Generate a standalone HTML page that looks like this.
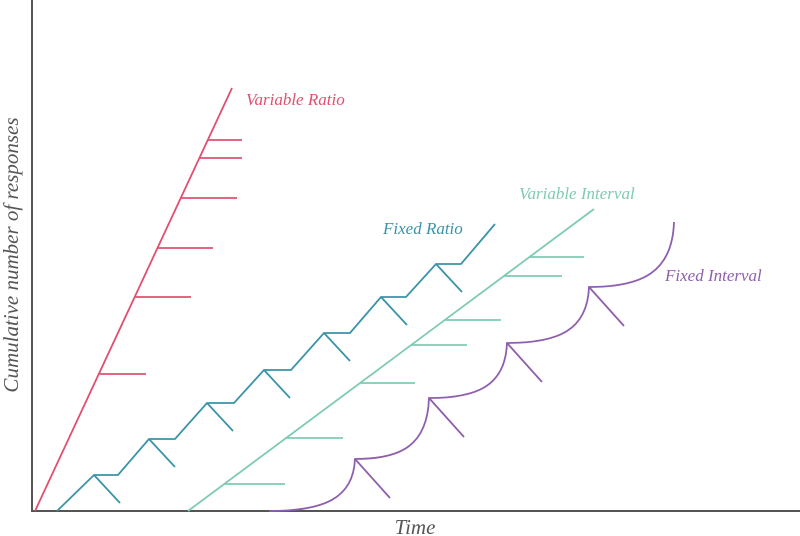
<!DOCTYPE html>
<html><head><meta charset="utf-8"><style>
html,body{margin:0;padding:0;background:#fff;}
svg{display:block;}
text{font-family:"Liberation Serif",serif;font-style:italic;}
</style></head><body>
<svg id="chart" width="800" height="536" viewBox="0 0 800 536" xmlns="http://www.w3.org/2000/svg">
<line x1="32" y1="0" x2="32" y2="512" stroke="#555" stroke-width="2"/>
<line x1="31" y1="511" x2="800" y2="511" stroke="#555" stroke-width="2"/>
<text transform="translate(18,255) rotate(-90)" text-anchor="middle" font-size="21" fill="#555">Cumulative number of responses</text>
<text x="415" y="534" text-anchor="middle" font-size="21" fill="#555">Time</text>
<g id="marks"></g>
</svg>
<script>
// time and cumulative-response values (chart units)
const vrLine = [[3,0],[200,423]];
const vrTicks = [[137,114],[214,159],[263,181],[313,205],[353,210],[371,210]]; // [response level, tick end time]
const frPoints = [[25,0],[62,36],[86,36],[117,72],[143,72],[175,108],[202,108],[232,141],[259,141],[292,178],[318,178],[349,214],[374,214],[404,247],[429,247],[463,287]];
const frPeaks = [1,3,5,7,9,11,13];
const viLine = [[156,0],[562,302]];
const viTicks = [[27,253],[73,311],[128,383],[166,435],[191,469],[235,530],[254,552]];
const fiStart = [237,0];
const fiPeaks = [[323,52],[397,113],[475,168],[557,224],[642,289]];

const X0=32, Y0=511;
function sx(t){return X0+t;}
function sy(r){return Y0-r;}
const NS="http://www.w3.org/2000/svg";
const g=document.getElementById('marks');
function add(tag,attrs){const e=document.createElementNS(NS,tag);for(const k in attrs)e.setAttribute(k,attrs[k]);g.appendChild(e);return e;}
const RED="#e0506e",TEAL="#3a93a8",MINT="#7ecbb0",PURP="#8e5fad";

let e=add('line',{x1:sx(vrLine[0][0]),y1:sy(vrLine[0][1]),x2:sx(vrLine[1][0]),y2:sy(vrLine[1][1]),stroke:RED,'stroke-width':1.8});


function onLine(L,r){const [a,b]=L;return a[0]+(b[0]-a[0])*(r-a[1])/(b[1]-a[1]);}
vrTicks.forEach(t=>{
  const el=add('line',{x1:sx(onLine(vrLine,t[0])),y1:sy(t[0]),x2:sx(t[1]),y2:sy(t[0]),stroke:RED,'stroke-width':1.8});
  
  
});
e=add('polyline',{points:frPoints.map(p=>sx(p[0])+','+sy(p[1])).join(' '),fill:'none',stroke:TEAL,'stroke-width':1.8});


frPeaks.forEach(i=>{
  const p=frPoints[i];
  const el=add('line',{x1:sx(p[0]),y1:sy(p[1]),x2:sx(p[0]+26),y2:sy(p[1]-28),stroke:TEAL,'stroke-width':1.8});
  
  
});
e=add('line',{x1:sx(viLine[0][0]),y1:sy(viLine[0][1]),x2:sx(viLine[1][0]),y2:sy(viLine[1][1]),stroke:MINT,'stroke-width':1.8});


viTicks.forEach(t=>{
  const el=add('line',{x1:sx(onLine(viLine,t[0])),y1:sy(t[0]),x2:sx(t[1]),y2:sy(t[0]),stroke:MINT,'stroke-width':1.8});
  
  
});
let d='M'+sx(fiStart[0])+','+sy(fiStart[1]);
let prev=fiStart;
fiPeaks.forEach(q=>{
  const dx=q[0]-prev[0], dy=q[1]-prev[1];
  d+=' C'+(sx(prev[0])+dx*0.62)+','+sy(prev[1])+' '+(sx(q[0])-dx*0.02)+','+(sy(prev[1])-dy*0.22)+' '+sx(q[0])+','+sy(q[1]);
  prev=q;
});
e=add('path',{d:d,fill:'none',stroke:PURP,'stroke-width':1.8});


fiPeaks.slice(0,-1).forEach(p=>{
  const el=add('line',{x1:sx(p[0]),y1:sy(p[1]),x2:sx(p[0]+35),y2:sy(p[1]-39),stroke:PURP,'stroke-width':1.8});
  
  
});
function lab(txt,x,y,c,name){const el=add('text',{x:x,y:y,fill:c,'font-size':17});el.textContent=txt;
  
  }
lab('Variable Ratio',246,105,RED,'variable-ratio-label');
lab('Fixed Ratio',383,234,TEAL,'fixed-ratio-label');
lab('Variable Interval',519,199,MINT,'variable-interval-label');
lab('Fixed Interval',665,281,PURP,'fixed-interval-label');
</script>
</body></html>
